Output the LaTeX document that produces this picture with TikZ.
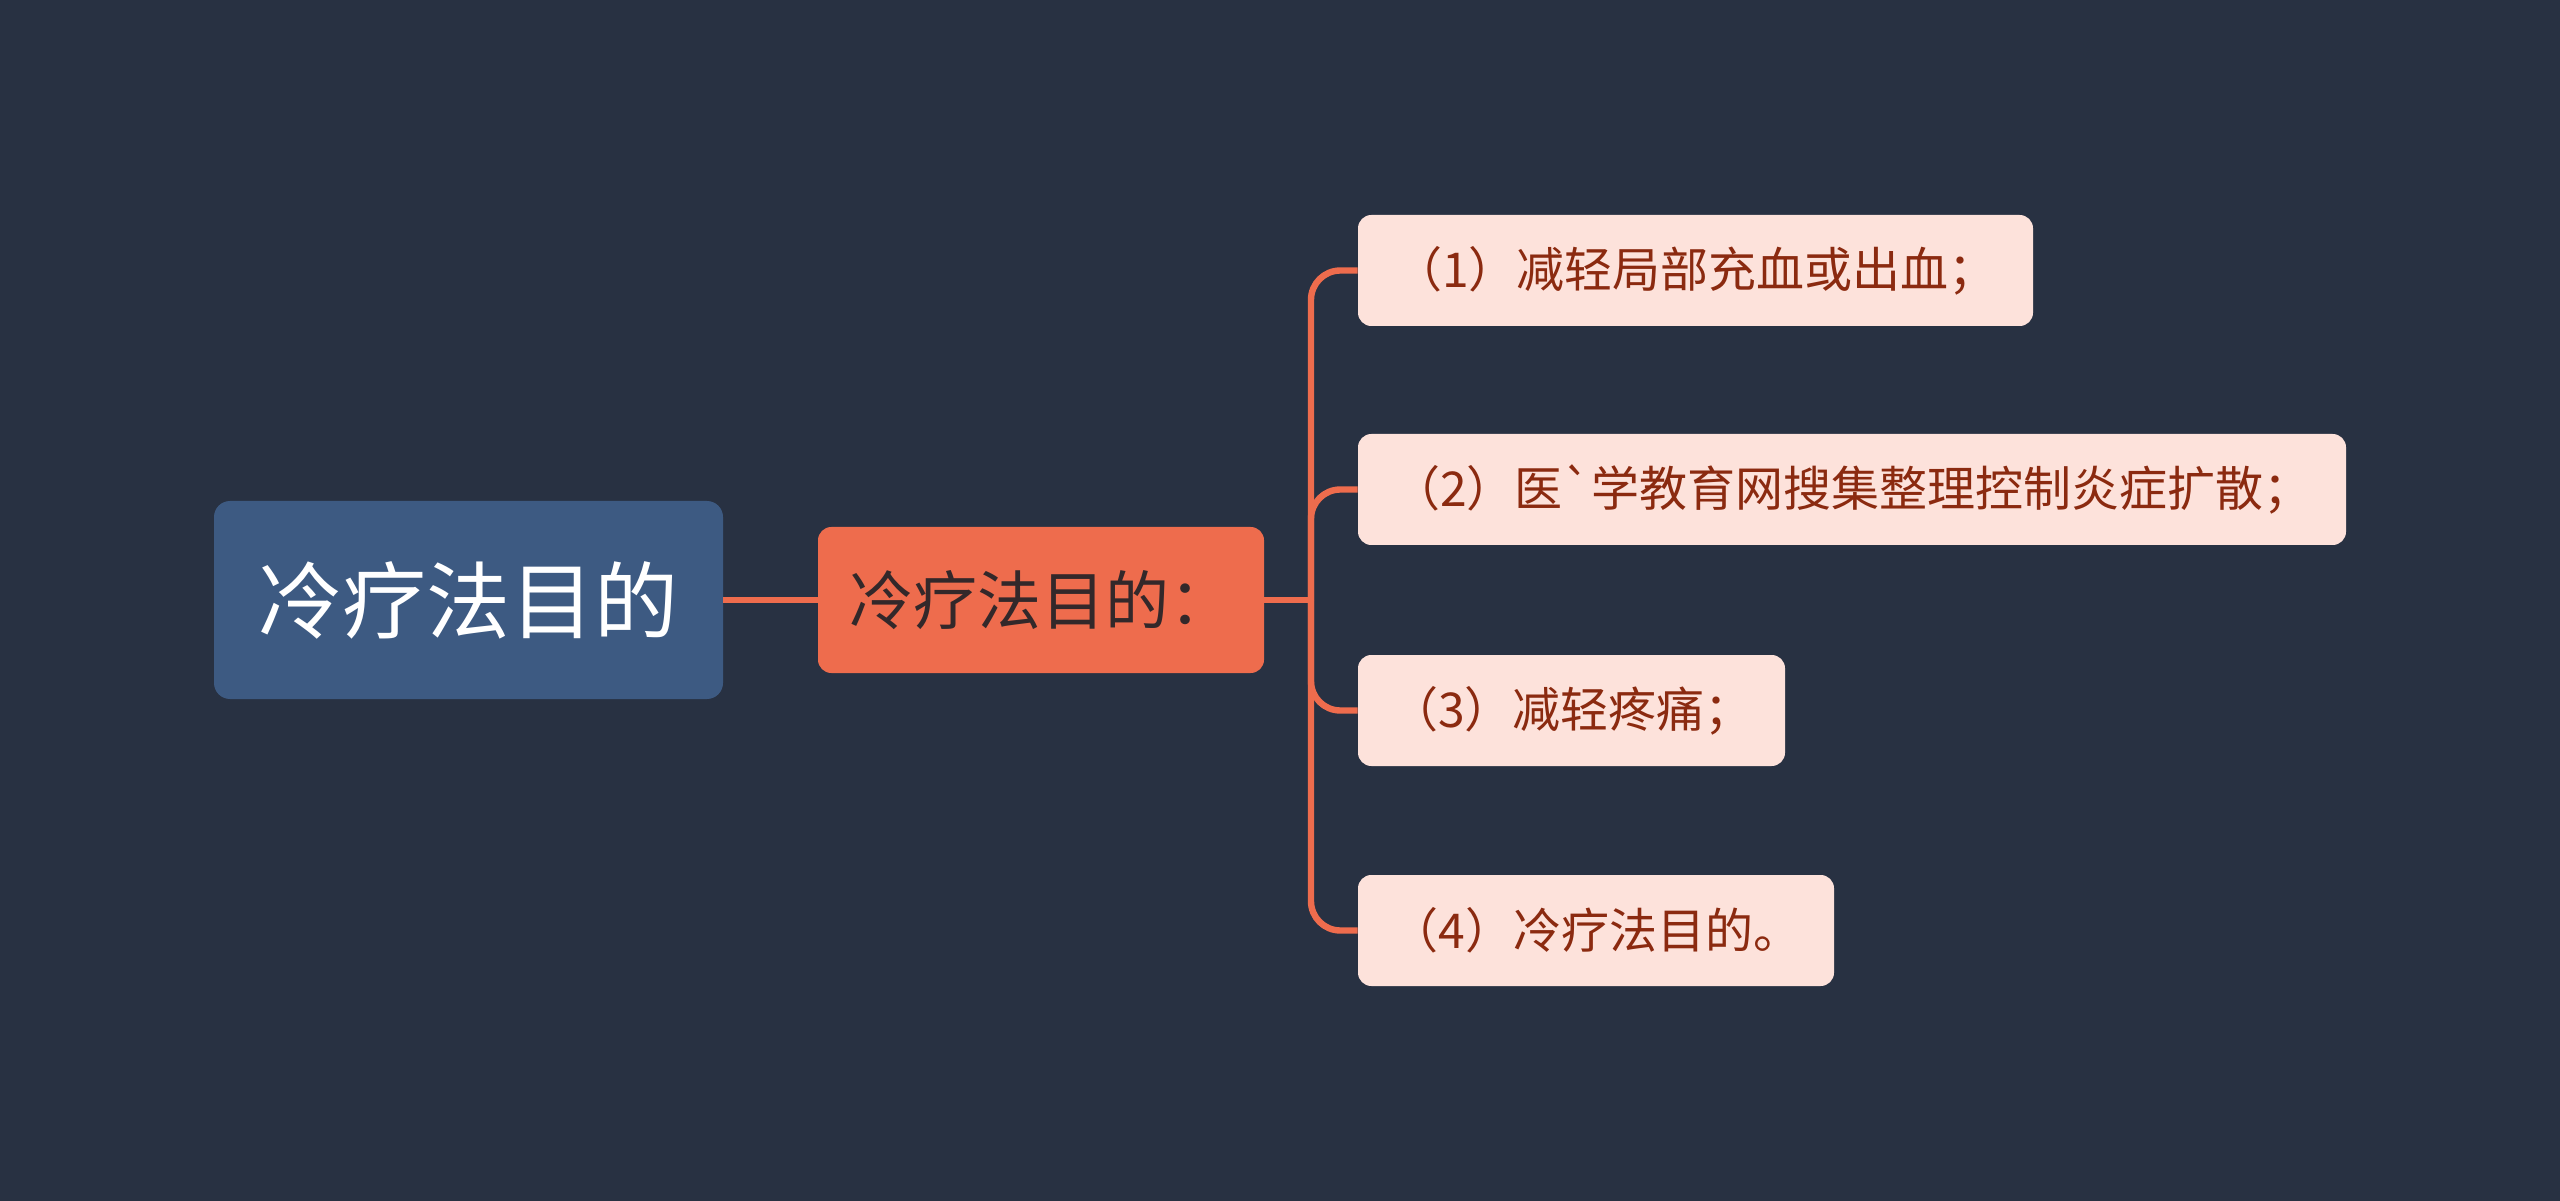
\documentclass[tikz,border=0pt]{standalone}
\usepackage{fontspec}
\setmainfont{Noto Sans CJK SC}
\setmonofont{Noto Sans CJK SC}
\begin{document}
\begin{tikzpicture}[x=0.75pt,y=-0.75pt,
  rootbox/.style={rectangle,rounded corners=12pt,fill=rootcol,text=white,inner sep=0pt,
    minimum width=381.75pt,minimum height=148.5pt,font=\fontsize{63}{70}\selectfont},
  midbox/.style={rectangle,rounded corners=10pt,fill=midcol,text=midtext,inner sep=0pt,
    minimum width=334.5pt,minimum height=109.5pt,font=\fontsize{48}{56}\selectfont},
  leafbox/.style={rectangle,rounded corners=10pt,fill=leafcol,text=leaftext,inner sep=0pt,
    minimum height=83.25pt,font=\fontsize{36}{42}\selectfont},
  conn/.style={draw=linecol,line width=4.8pt},
]
\definecolor{bgcol}{HTML}{283142}
\definecolor{rootcol}{HTML}{3D5A82}
\definecolor{midcol}{HTML}{EE6C4D}
\definecolor{midtext}{HTML}{33282A}
\definecolor{leafcol}{HTML}{FDE2DB}
\definecolor{leaftext}{HTML}{8B2A10}
\definecolor{linecol}{HTML}{EE6C4D}
\fill[bgcol] (0,0) rectangle (2560,1201);
\useasboundingbox (0,0) rectangle (2560,1201);

\coordinate (bus) at (1311,600);
\node[rootbox] (root) at (468.5,600) {冷疗法目的};
\node[midbox] (mid) at (1041,600) {冷疗法目的：};
\node[leafbox,minimum width=506.25pt] (l1) at (1695.5,270.5) {（1）减轻局部充血或出血；};
\node[leafbox,minimum width=741pt] (l2) at (1852,489.5) {（2）医{\ttfamily `}学教育网搜集整理控制炎症扩散；};
\node[leafbox,minimum width=320.25pt] (l3) at (1571.5,710.5) {（3）减轻疼痛；};
\node[leafbox,minimum width=357pt] (l4) at (1596,930.5) {（4）冷疗法目的。};

\begin{scope}[on background layer/.style={}]
\draw[conn] (root.east) -- (mid.west);
\draw[conn] (mid.east) -- (bus);
\foreach \l in {l1,l2,l3,l4}{
  \draw[conn,rounded corners=22pt] (bus) |- (\l.west);
}
\end{scope}
\end{tikzpicture}
\end{document}
